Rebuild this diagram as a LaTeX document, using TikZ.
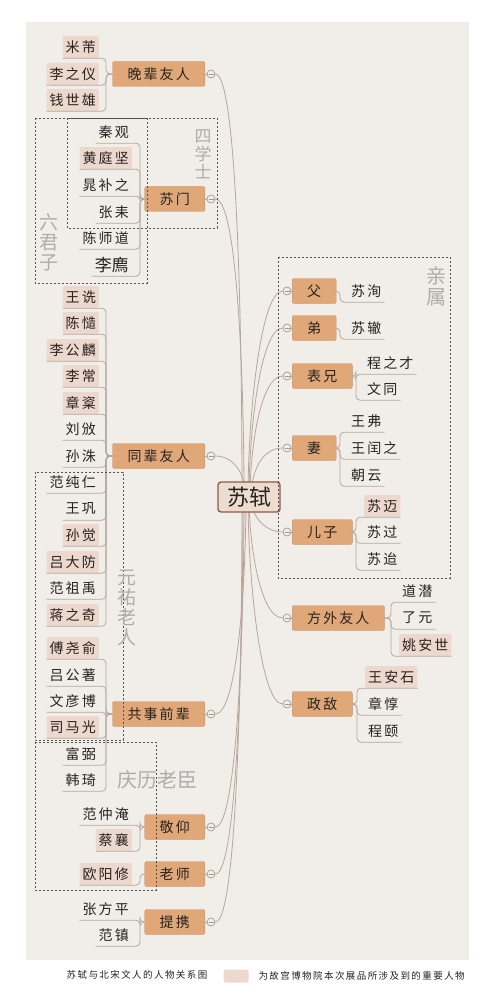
\documentclass[tikz,border=0pt]{standalone}
\usepackage{fontspec}
\setmainfont{Noto Sans CJK SC}
\newfontfamily\kai[LetterSpace=15]{Noto Sans CJK SC}
\newfontfamily\hei{Noto Sans CJK SC}
\definecolor{panel}{RGB}{241,238,233}
\definecolor{catfill}{RGB}{224,167,120}
\definecolor{catline}{RGB}{200,145,102}
\definecolor{hlfill}{RGB}{236,216,204}
\definecolor{hubfill}{RGB}{238,220,208}
\definecolor{hubline}{RGB}{138,94,72}
\definecolor{linkcol}{RGB}{184,166,152}
\definecolor{undercol}{RGB}{178,168,160}
\definecolor{foldline}{RGB}{160,152,146}
\definecolor{boxline}{RGB}{85,82,80}
\definecolor{grpcol}{RGB}{176,172,170}
\definecolor{ink}{RGB}{38,34,32}
\pgfdeclarelayer{back}
\pgfdeclarelayer{wires}
\pgfsetlayers{back,wires,main}

\begin{document}
\begin{tikzpicture}[x=1pt,y=-1pt,
  cat/.style={draw=catline,fill=catfill,rounded corners=2pt,minimum height=25pt,inner xsep=15pt,inner ysep=0pt,font=\fontsize{14}{14}\kai,text=ink},
  leaf/.style={minimum height=22pt,inner xsep=3pt,inner ysep=0pt,font=\fontsize{14}{14}\kai,text=ink},
  hl/.style={leaf,fill=hlfill,rounded corners=2pt},
  big/.style={leaf,font=\fontsize{17}{17}\hei},
  fold/.style={circle,draw=foldline,fill=panel,line width=0.7pt,minimum size=8pt,inner sep=0pt,
    path picture={\draw[foldline,line width=0.7pt] ([xshift=-2.5pt]path picture bounding box.center) -- ([xshift=2.5pt]path picture bounding box.center);}},
  link/.style={draw=linkcol,line width=0.8pt},
  under/.style={draw=undercol,line width=0.8pt,rounded corners=4pt},
  grpbox/.style={draw=boxline,line width=0.6pt,dash pattern=on 2pt off 2pt},
  grplabel/.style={text=grpcol,font=\fontsize{19}{20}\hei,align=center,inner sep=0pt}]
\useasboundingbox (0,0) rectangle (489,1000);
\begin{pgfonlayer}{back}
\fill[panel] (26,22) rectangle (469,960);
\end{pgfonlayer}

% centre
\node[draw=hubline,fill=hubfill,line width=1.4pt,rounded corners=3pt,minimum width=62pt,minimum height=30pt,inner sep=0pt,font=\fontsize{22}{22}\hei,text=ink] (sx) at (249,497) {苏轼};

% left: 晚辈友人
\node[cat,anchor=east] (wb) at (205,74) {晚辈友人};
\node[fold] (wbC) at (211,74) {};
\coordinate (wbS) at (106,74);
\foreach \n/\y/\s [count=\i] in {米芾/47/hl,李之仪/74/hl,钱世雄/100/hl} {
  \node[\s,anchor=east] (wb\i) at (99,\y) {\n};
  \draw[under] (wb.west) -| (wb\i.south -| wbS) -- (wb\i.south west);
}

% left: 苏门
\node[cat,anchor=east] (sm) at (205,199) {苏门};
\node[fold] (smC) at (211,199) {};
\coordinate (smS) at (140,199);
\foreach \n/\y/\s [count=\i] in {秦观/132/leaf,黄庭坚/158/hl,晁补之/185/leaf,张耒/212/leaf,陈师道/238/leaf,李廌/265/big} {
  \node[\s,anchor=east] (sm\i) at (132,\y) {\n};
  \draw[under] (sm.west) -| (sm\i.south -| smS) -- (sm\i.south west);
}

% left: 同辈友人
\node[cat,anchor=east] (tb) at (205,456) {同辈友人};
\node[fold] (tbC) at (211,456) {};
\coordinate (tbS) at (106,456);
\foreach \n/\y/\s [count=\i] in {王诜/297/hl,陈慥/323/hl,李公麟/350/hl,李常/376/hl,章楶/403/hl,刘攽/429/leaf,孙洙/456/leaf,
    范纯仁/482/leaf,王巩/509/leaf,孙觉/535/hl,吕大防/562/hl,范祖禹/588/leaf,蒋之奇/615/hl} {
  \node[\s,anchor=east] (tb\i) at (99,\y) {\n};
  \draw[under] (tb.west) -| (tb\i.south -| tbS) -- (tb\i.south west);
}

% left: 共事前辈
\node[cat,anchor=east] (gs) at (205,714) {共事前辈};
\node[fold] (gsC) at (211,714) {};
\coordinate (gsS) at (106,714);
\foreach \n/\y/\s [count=\i] in {傅尧俞/648/hl,吕公著/675/leaf,文彦博/701/leaf,司马光/727/hl,富弼/754/leaf,韩琦/780/leaf} {
  \node[\s,anchor=east] (gs\i) at (99,\y) {\n};
  \draw[under] (gs.west) -| (gs\i.south -| gsS) -- (gs\i.south west);
}

% left: 敬仰, 老师, 提携
\node[cat,anchor=east] (jy) at (205,827) {敬仰};
\node[fold] (jyC) at (211,827) {};
\coordinate (jyS) at (140,827);
\foreach \n/\y/\s [count=\i] in {范仲淹/814/leaf,蔡襄/840/hl} {
  \node[\s,anchor=east] (jy\i) at (132,\y) {\n};
  \draw[under] (jy.west) -| (jy\i.south -| jyS) -- (jy\i.south west);
}
\node[cat,anchor=east] (ls) at (205,874) {老师};
\node[fold] (lsC) at (211,874) {};
\coordinate (lsS) at (140,874);
\node[hl,anchor=east] (ls1) at (132,874) {欧阳修};
\draw[under] (ls.west) -| (ls1.south -| lsS) -- (ls1.south west);
\node[cat,anchor=east] (tx) at (205,922) {提携};
\node[fold] (txC) at (211,922) {};
\coordinate (txS) at (140,922);
\foreach \n/\y/\s [count=\i] in {张方平/909/leaf,范镇/935/leaf} {
  \node[\s,anchor=east] (tx\i) at (132,\y) {\n};
  \draw[under] (tx.west) -| (tx\i.south -| txS) -- (tx\i.south west);
}

% right: 亲属
\node[cat,anchor=west] (fu) at (292,291) {父};
\node[fold] (fuC) at (287,291) {};
\coordinate (fuS) at (340,291);
\node[leaf,anchor=west] (fu1) at (348,291) {苏洵};
\draw[under] (fu.east) -| (fu1.south -| fuS) -- (fu1.south east);
\node[cat,anchor=west] (di) at (292,328) {弟};
\node[fold] (diC) at (287,328) {};
\coordinate (diS) at (340,328);
\node[leaf,anchor=west] (di1) at (348,328) {苏辙};
\draw[under] (di.east) -| (di1.south -| diS) -- (di1.south east);
\node[cat,anchor=west] (bx) at (292,376) {表兄};
\node[fold] (bxC) at (287,376) {};
\coordinate (bxS) at (356,376);
\foreach \n/\y/\s [count=\i] in {程之才/363/leaf,文同/389/leaf} {
  \node[\s,anchor=west] (bx\i) at (364,\y) {\n};
  \draw[under] (bx.east) -| (bx\i.south -| bxS) -- (bx\i.south east);
}
\node[cat,anchor=west] (qi) at (292,448) {妻};
\node[fold] (qiC) at (287,448) {};
\coordinate (qiS) at (340,448);
\foreach \n/\y/\s [count=\i] in {王弗/421/leaf,王闰之/448/leaf,朝云/475/leaf} {
  \node[\s,anchor=west] (qi\i) at (348,\y) {\n};
  \draw[under] (qi.east) -| (qi\i.south -| qiS) -- (qi\i.south east);
}
\node[cat,anchor=west] (ez) at (292,532) {儿子};
\node[fold] (ezC) at (287,532) {};
\coordinate (ezS) at (356,532);
\foreach \n/\y/\s [count=\i] in {苏迈/506/hl,苏过/532/leaf,苏迨/559/leaf} {
  \node[\s,anchor=west] (ez\i) at (364,\y) {\n};
  \draw[under] (ez.east) -| (ez\i.south -| ezS) -- (ez\i.south east);
}

% right: 方外友人, 政敌
\node[cat,anchor=west] (fw) at (292,618) {方外友人};
\node[fold] (fwC) at (287,618) {};
\coordinate (fwS) at (391,618);
\foreach \n/\y/\s [count=\i] in {道潜/591/leaf,了元/618/leaf,姚安世/645/hl} {
  \node[\s,anchor=west] (fw\i) at (399,\y) {\n};
  \draw[under] (fw.east) -| (fw\i.south -| fwS) -- (fw\i.south east);
}
\node[cat,anchor=west] (zd) at (292,704) {政敌};
\node[fold] (zdC) at (287,704) {};
\coordinate (zdS) at (357,704);
\foreach \n/\y/\s [count=\i] in {王安石/677/hl,章惇/704/leaf,程颐/731/leaf} {
  \node[\s,anchor=west] (zd\i) at (365,\y) {\n};
  \draw[under] (zd.east) -| (zd\i.south -| zdS) -- (zd\i.south east);
}

% branches from the centre
\begin{pgfonlayer}{wires}
\foreach \c/\d in {wb/-7,sm/-5,tb/-3} {
  \draw[link] ([xshift=\d pt]sx.center) to[out=90,in=0,in max distance=22pt] (\c C.east);
  \draw[link] (\c.east) -- (\c C.west);
}
\foreach \c/\d in {gs/-3,jy/-5,ls/-6,tx/-7} {
  \draw[link] ([xshift=\d pt]sx.center) to[out=270,in=0,in max distance=22pt] (\c C.east);
  \draw[link] (\c.east) -- (\c C.west);
}
\foreach \c/\d in {fu/-1,di/0,bx/1,qi/2} {
  \draw[link] ([xshift=\d pt]sx.center) to[out=90,in=180,in max distance=22pt] (\c C.west);
  \draw[link] (\c.west) -- (\c C.east);
}
\foreach \c/\d in {ez/2,fw/0,zd/-1} {
  \draw[link] ([xshift=\d pt]sx.center) to[out=270,in=180,in max distance=22pt] (\c C.west);
  \draw[link] (\c.west) -- (\c C.east);
}
\end{pgfonlayer}

% groups
\draw[grpbox] (67,118) rectangle (217,228);
\draw[grpbox] (35,118) rectangle (147,283);
\draw[grpbox] (35,472) rectangle (123,740);
\draw[grpbox] (35,742) rectangle (156,890);
\draw[grpbox] (278,257) rectangle (450,578);
\node[grplabel,font=\fontsize{17}{18}\hei] (sxs) at (203,154) {四\\学\\士};
\node[grplabel] (ljz) at (49,242) {六\\君\\子};
\node[grplabel] (yyl) at (127,608) {元\\祐\\老\\人};
\node[grplabel,font=\fontsize{20}{20}\hei] (qll) at (157,780) {庆历老臣};
\node[grplabel,font=\fontsize{20}{21}\hei] (qs) at (436,286) {亲\\属};

% legend
\node[font=\fontsize{9.5}{10}\kai,text=ink] (cap) at (137,975) {苏轼与北宋文人的人物关系图};
\node[fill=hlfill,rounded corners=2pt,minimum width=25pt,minimum height=13pt,inner sep=0pt] (key) at (236,976) {};
\node[font=\fontsize{9.5}{10}\kai,text=ink,anchor=west] (keytxt) at (255,976) {为故宫博物院本次展品所涉及到的重要人物};
\end{tikzpicture}
\end{document}
